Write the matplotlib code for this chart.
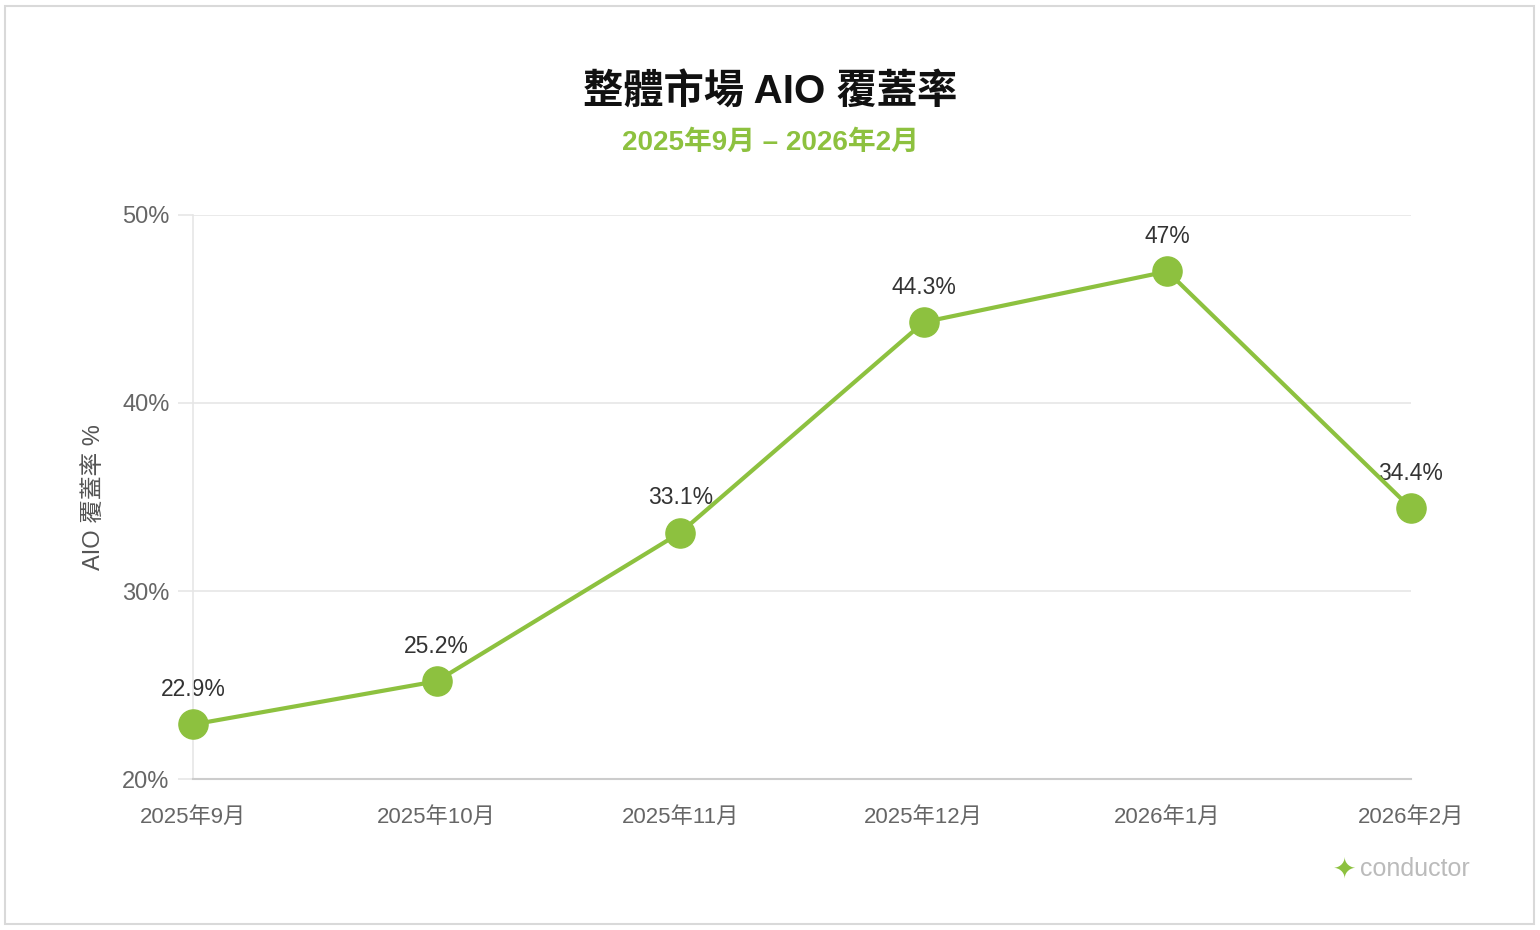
import matplotlib
matplotlib.use("Agg")
import matplotlib.pyplot as plt
from matplotlib.patches import Rectangle

# data
months = ["2025年9月", "2025年10月", "2025年11月", "2025年12月", "2026年1月", "2026年2月"]
coverage = [22.9, 25.2, 33.1, 44.3, 47.0, 34.4]
value_labels = ["22.9%", "25.2%", "33.1%", "44.3%", "47%", "34.4%"]
y_ticks = [20, 30, 40, 50]

GREEN = "#8dc13f"
FONTS = ["Liberation Sans", "Noto Sans CJK TC", "DejaVu Sans"]
plt.rcParams["font.family"] = FONTS

fig = plt.figure(figsize=(15.4, 9.3), dpi=100)
# outer card border
fig.patches.append(Rectangle((5 / 1540, 6 / 930), 1529 / 1540, 918 / 930,
                             transform=fig.transFigure, fill=False,
                             edgecolor="#d9d9d9", linewidth=1.5))

ax = fig.add_axes([193 / 1540, 1 - 779 / 930, (1411 - 193) / 1540, (779 - 215) / 930])
x = list(range(len(months)))
ax.plot(x, coverage, color=GREEN, linewidth=3, marker="o", markersize=21,
        markerfacecolor=GREEN, markeredgecolor=GREEN, zorder=3, clip_on=False)
for xi, yi, lab in zip(x, coverage, value_labels):
    ax.annotate(lab, (xi, yi), xytext=(0, 25), textcoords="offset points",
                ha="center", va="center", fontsize=16.5, color="#333333", zorder=2)

ax.set_xlim(0, len(months) - 1)
ax.set_ylim(20, 50)
ax.set_yticks(y_ticks)
ax.set_yticklabels([f"{t}%" for t in y_ticks])
ax.set_xticks(x)
ax.set_xticklabels(months)
ax.tick_params(axis="y", length=11, color="#e6e6e6", width=1.2, pad=6,
               labelsize=17, labelcolor="#666666")
ax.tick_params(axis="x", length=0, pad=20, labelsize=16, labelcolor="#666666")
ax.grid(axis="y", color="#e6e6e6", linewidth=1.2)
ax.set_axisbelow(True)
for side in ["top", "right"]:
    ax.spines[side].set_visible(False)
ax.spines["left"].set_color("#e6e6e6")
ax.spines["left"].set_linewidth(1.2)
ax.spines["bottom"].set_color("#cccccc")
ax.spines["bottom"].set_linewidth(1.5)
ax.set_ylabel("AIO 覆蓋率 %", fontsize=17, color="#555555", labelpad=12)

fig.text(770 / 1540, 1 - 92 / 930, "整體市場 AIO 覆蓋率", ha="center", va="center",
         fontsize=29, fontweight="bold", color="#111111")
fig.text(770 / 1540, 1 - 143 / 930, "2025年9月 – 2026年2月", ha="center", va="center",
         fontsize=20, fontweight="bold", color=GREEN)

# logo bottom right
fig.text(1344 / 1540, 1 - 869 / 930, "✦", ha="center", va="center",
         fontsize=20, color=GREEN, family=["DejaVu Sans"])
fig.text(1360 / 1540, 1 - 869 / 930, "conductor", ha="left", va="center",
         fontsize=18, color="#bbbbbb")

fig.savefig("out.png", dpi=100)
